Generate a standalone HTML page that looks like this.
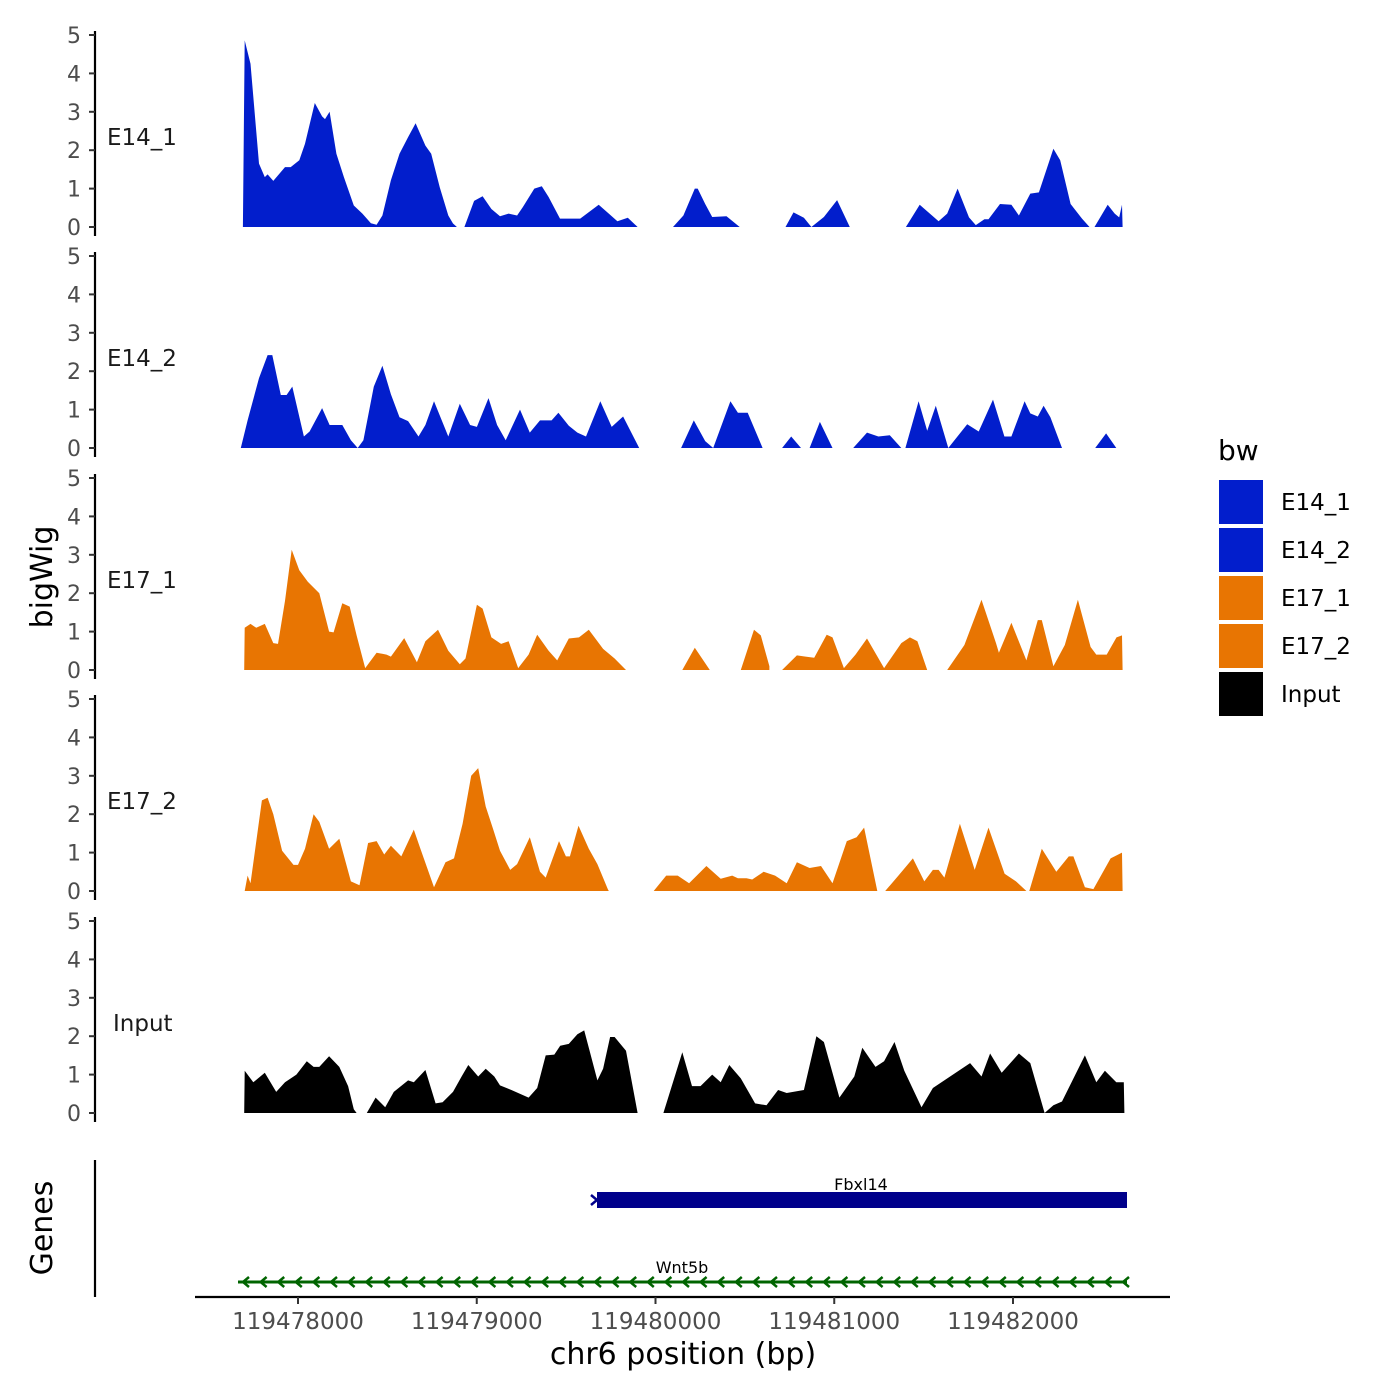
<!DOCTYPE html>
<html><head><meta charset="utf-8"><style>
html,body{margin:0;padding:0;background:#fff;}
svg{display:block;font-family:"DejaVu Sans","Liberation Sans",sans-serif;}
</style></head><body>
<svg id="chart" width="1400" height="1400" viewBox="0 0 1400 1400">
<g id="tracks"></g>
<g id="axes"></g>
<g id="genes">
  <line x1="95" y1="1160" x2="95" y2="1297" stroke="#000" stroke-width="2.2"/>
  <rect x="597" y="1192" width="530" height="16" fill="#00008B"/>
  <path d="M591,1195L597,1200L591,1205" fill="none" stroke="#00008B" stroke-width="2.5"/>
  <text x="861" y="1190" font-size="16" text-anchor="middle" fill="#000">Fbxl14</text>
  <line x1="238" y1="1282" x2="1127" y2="1282" stroke="#006400" stroke-width="3"/>
  <g id="wntArrows"></g>
  <text x="682" y="1273" font-size="16" text-anchor="middle" fill="#000">Wnt5b</text>
  <text transform="translate(52,1228) rotate(-90)" font-size="30" text-anchor="middle" fill="#000">Genes</text>
</g>
<g id="xaxis">
  <line x1="195" y1="1297" x2="1170" y2="1297" stroke="#000" stroke-width="2.2"/>
</g>
<text x="683" y="1364" font-size="30" text-anchor="middle" fill="#000">chr6 position (bp)</text>
<text transform="translate(52,577) rotate(-90)" font-size="30" text-anchor="middle" fill="#000">bigWig</text>
<g id="legend">
  <text x="1218" y="460" font-size="28" fill="#000">bw</text>
</g>
</svg>
<script>
const NS = "http://www.w3.org/2000/svg";
const BASE = 119478000;
const trackNames = ["E14_1","E14_2","E17_1","E17_2","Input"];
const xTicks = [119478000,119479000,119480000,119481000,119482000];
const yTicks = [0,1,2,3,4,5];
// positions: bp offset from BASE; null value = gap
const pos1 = [-308,-298,-266,-218,-186,-170,-138,-73,-41,7,39,94,135,151,177,215,257,312,360,408,440,472,520,568,616,658,713,745,793,841,867,889,900,931,985,1033,1082,1130,1178,1226,1258,1322,1364,1402,1466,1531,1579,1682,1739,1787,1845,1900,2000,2098,2156,2220,2236,2278,2317,2397,2471,2600,2727,2772,2830,2872,2942,3016,3087,3200,3401,3478,3584,3632,3690,3754,3792,3840,3863,3927,3991,4033,4097,4145,4226,4264,4322,4386,4428,4440,4456,4530,4569,4594,4610,4613];
const val1 = [0,4.86,4.25,1.65,1.30,1.37,1.20,1.56,1.56,1.74,2.17,3.23,2.88,2.81,3.00,1.91,1.30,0.56,0.35,0.10,0.06,0.30,1.22,1.91,2.34,2.70,2.12,1.91,1.04,0.30,0.09,0,null,0,0.68,0.80,0.47,0.28,0.35,0.30,0.52,1.00,1.06,0.78,0.22,0.22,0.22,0.58,0.35,0.15,0.24,0,null,0,0.30,1.00,1.00,0.60,0.26,0.28,0,null,0,0.38,0.24,0,0.26,0.70,0,null,0,0.58,0.15,0.35,1.00,0.25,0.05,0.20,0.20,0.60,0.58,0.30,0.87,0.90,2.04,1.74,0.60,0.22,0,null,0,0.58,0.35,0.25,0.58,0];
const pos2 = [-320,-282,-218,-170,-144,-96,-64,-32,33,65,135,177,248,296,334,366,424,472,520,568,616,674,713,761,841,905,963,1001,1066,1114,1162,1242,1297,1354,1419,1457,1515,1563,1611,1691,1755,1819,1909,2000,2143,2214,2278,2323,2419,2461,2516,2599,2650,2708,2759,2814,2840,2862,2920,2990,3050,3106,3183,3247,3311,3375,3398,3472,3520,3568,3638,3744,3808,3888,3952,3991,4065,4097,4139,4171,4209,4274,4350,4460,4521,4578];
const val2 = [0,0.72,1.82,2.42,2.42,1.38,1.38,1.60,0.30,0.43,1.04,0.60,0.60,0.20,0,0.20,1.60,2.14,1.40,0.80,0.70,0.30,0.60,1.22,0.30,1.15,0.60,0.55,1.30,0.60,0.20,1.00,0.40,0.72,0.72,0.92,0.58,0.40,0.30,1.22,0.55,0.82,0,null,0,0.72,0.18,0,1.22,0.92,0.92,0,null,0,0.30,0,null,0,0.68,0,null,0,0.40,0.30,0.33,0,0,1.22,0.45,1.10,0,0.62,0.43,1.26,0.30,0.30,1.22,0.90,0.82,1.10,0.80,0,null,0,0.38,0];
const pos3 = [-301,-298,-266,-234,-186,-138,-112,-73,-35,7,55,119,174,199,248,289,328,376,440,495,520,594,665,713,783,841,905,937,1001,1033,1082,1136,1178,1232,1290,1338,1402,1450,1515,1572,1627,1707,1771,1835,2000,2150,2220,2304,2400,2477,2551,2589,2637,2680,2708,2791,2840,2888,2958,2990,3054,3119,3183,3279,3375,3423,3465,3520,3580,3632,3728,3824,3905,3921,3991,4075,4139,4161,4226,4290,4363,4434,4466,4524,4579,4610,4613];
const val3 = [0,1.10,1.20,1.10,1.20,0.70,0.68,1.80,3.13,2.60,2.30,2.00,1.00,0.98,1.74,1.65,0.90,0.05,0.45,0.40,0.35,0.83,0.20,0.75,1.05,0.50,0.15,0.30,1.70,1.60,0.85,0.68,0.75,0.05,0.40,0.92,0.50,0.25,0.82,0.85,1.05,0.55,0.30,0,null,0,0.58,0,null,0,1.05,0.90,0.10,null,0,0.38,0.35,0.32,0.92,0.85,0.05,0.40,0.82,0.05,0.70,0.85,0.75,0,null,0,0.65,1.83,0.70,0.45,1.23,0.25,1.30,1.30,0.10,0.65,1.83,0.60,0.40,0.40,0.85,0.90,0];
const pos4 = [-298,-282,-266,-202,-170,-138,-89,-25,0,39,87,119,174,231,296,344,392,440,482,520,578,648,681,761,825,873,921,969,1008,1050,1091,1130,1187,1226,1297,1354,1386,1460,1499,1521,1569,1627,1675,1733,1739,1850,1990,2060,2124,2188,2285,2365,2429,2461,2509,2541,2605,2669,2734,2791,2862,2926,2990,3070,3125,3167,3241,3260,3285,3359,3440,3504,3552,3584,3616,3703,3786,3863,3953,4017,4075,4083,4091,4161,4242,4312,4338,4402,4450,4546,4610,4613];
const val4 = [0,0.40,0.20,2.36,2.43,2.00,1.05,0.68,0.68,1.10,2.00,1.80,1.10,1.36,0.25,0.15,1.25,1.30,0.95,1.18,0.90,1.60,1.15,0.10,0.75,0.85,1.75,3.00,3.20,2.20,1.62,1.05,0.55,0.70,1.40,0.50,0.35,1.30,0.90,0.90,1.70,1.10,0.70,0.05,0,null,0,0.40,0.40,0.20,0.65,0.32,0.40,0.33,0.33,0.30,0.50,0.40,0.20,0.75,0.60,0.65,0.20,1.30,1.40,1.65,0,null,0,0.40,0.85,0.25,0.55,0.55,0.35,1.75,0.55,1.65,0.45,0.25,0,null,0,1.10,0.50,0.90,0.90,0.10,0.05,0.85,1.00,0];
const pos5 = [-301,-298,-250,-186,-122,-73,-9,49,87,119,174,231,280,312,328,360,385,434,488,536,616,648,713,770,809,867,915,953,1008,1050,1098,1130,1194,1290,1338,1386,1434,1467,1515,1563,1601,1627,1675,1707,1746,1771,1835,1900,1970,2044,2150,2204,2252,2317,2365,2413,2477,2557,2621,2686,2734,2830,2900,2942,3029,3112,3157,3231,3279,3337,3392,3488,3552,3664,3760,3824,3872,3937,4033,4097,4177,4226,4274,4402,4466,4514,4578,4620,4623];
const val5 = [0,1.10,0.80,1.05,0.55,0.80,1.00,1.35,1.20,1.20,1.48,1.20,0.70,0.10,0,null,0,0.40,0.15,0.55,0.85,0.80,1.12,0.25,0.28,0.55,0.95,1.25,0.95,1.15,0.95,0.72,0.60,0.40,0.65,1.50,1.52,1.75,1.80,2.05,2.15,1.70,0.85,1.15,1.98,1.98,1.62,0,null,0,1.58,0.70,0.70,1.00,0.80,1.25,0.90,0.25,0.20,0.60,0.52,0.60,2.00,1.85,0.40,0.95,1.70,1.20,1.35,1.85,1.10,0.15,0.65,1.00,1.30,0.95,1.55,1.05,1.55,1.30,0,0.20,0.30,1.50,0.80,1.10,0.80,0.80,0];
const trackPos = [pos1,pos2,pos3,pos4,pos5];
const trackVal = [val1,val2,val3,val4,val5];
const colors = ["#021ECC","#021ECC","#E87502","#E87502","#000000"];
const baselines = [227,448,670,891,1113];
const PXU = 38.4;
function xs(bp){ return 298 + (bp - BASE) * 0.17875; }
function ys(i,v){ return baselines[i] - v * PXU; }

const tracks = document.getElementById('tracks');
trackNames.forEach((nm,i)=>{
  const P = trackPos[i], V = trackVal[i];
  let segs = [], cur = [];
  for (let k=0;k<P.length;k++){
    if (V[k]===null){ if(cur.length) segs.push(cur); cur=[]; continue; }
    cur.push([P[k],V[k]]);
  }
  if (cur.length) segs.push(cur);
  let d = "";
  segs.forEach(s=>{
    d += "M"+xs(BASE+s[0][0]).toFixed(1)+","+baselines[i];
    s.forEach(p=>{ d += "L"+xs(BASE+p[0]).toFixed(1)+","+ys(i,p[1]).toFixed(1); });
    d += "L"+xs(BASE+s[s.length-1][0]).toFixed(1)+","+baselines[i]+"Z";
  });
  const path = document.createElementNS(NS,'path');
  path.setAttribute('d', d);
  path.setAttribute('fill', colors[i]);
  
  
  tracks.appendChild(path);
});

const axes = document.getElementById('axes');
trackNames.forEach((nm,i)=>{
  const b = baselines[i];
  const ln = document.createElementNS(NS,'line');
  ln.setAttribute('x1',95); ln.setAttribute('x2',95);
  ln.setAttribute('y1', b - 5*PXU - 4); ln.setAttribute('y2', b + 9);
  ln.setAttribute('stroke','#000'); ln.setAttribute('stroke-width','2.2');
  
  
  axes.appendChild(ln);
  yTicks.forEach(t=>{
    const y = ys(i,t);
    const tk = document.createElementNS(NS,'line');
    tk.setAttribute('x1',89); tk.setAttribute('x2',95);
    tk.setAttribute('y1',y); tk.setAttribute('y2',y);
    tk.setAttribute('stroke','#333'); tk.setAttribute('stroke-width','2');
    
    
    axes.appendChild(tk);
    const tx = document.createElementNS(NS,'text');
    tx.setAttribute('x',81); tx.setAttribute('y',y+8);
    tx.setAttribute('text-anchor','end'); tx.setAttribute('font-size','22');
    tx.setAttribute('fill','#4d4d4d');
    tx.textContent = t;
    
    
    axes.appendChild(tx);
  });
  const lb = document.createElementNS(NS,'text');
  lb.setAttribute('x', nm==='Input'?113:107); lb.setAttribute('y', b - 2.35*PXU + 8);
  lb.setAttribute('font-size','23'); lb.setAttribute('fill','#1a1a1a');
  lb.textContent = nm;
  
  
  axes.appendChild(lb);
});

const xa = document.getElementById('xaxis');
xTicks.forEach(t=>{
  const x = xs(t);
  const tk = document.createElementNS(NS,'line');
  tk.setAttribute('x1',x); tk.setAttribute('x2',x);
  tk.setAttribute('y1',1297); tk.setAttribute('y2',1304);
  tk.setAttribute('stroke','#333'); tk.setAttribute('stroke-width','2');
  
  
  xa.appendChild(tk);
  const tx = document.createElementNS(NS,'text');
  tx.setAttribute('x',x); tx.setAttribute('y',1329);
  tx.setAttribute('text-anchor','middle'); tx.setAttribute('font-size','23');
  tx.setAttribute('fill','#4d4d4d');
  tx.textContent = t;
  
  
  xa.appendChild(tx);
});

const wa = document.getElementById('wntArrows');
for (let x=243; x<1125; x+=17.6){
  const p = document.createElementNS(NS,'path');
  p.setAttribute('d', 'M'+(x+6)+',1277L'+x+',1282L'+(x+6)+',1287');
  p.setAttribute('fill','none'); p.setAttribute('stroke','#006400'); p.setAttribute('stroke-width','2.5');
  
  
  wa.appendChild(p);
}

const lg = document.getElementById('legend');
const legendColors = ["#021ECC","#021ECC","#E87502","#E87502","#000000"];
trackNames.forEach((nm,i)=>{
  const y = 480 + i*48;
  const r = document.createElementNS(NS,'rect');
  r.setAttribute('x',1219); r.setAttribute('y',y);
  r.setAttribute('width',44); r.setAttribute('height',44);
  r.setAttribute('fill',legendColors[i]);
  
  
  lg.appendChild(r);
  const t = document.createElementNS(NS,'text');
  t.setAttribute('x',1281); t.setAttribute('y',y+30);
  t.setAttribute('font-size','23'); t.setAttribute('fill','#000');
  t.textContent = nm;
  
  
  lg.appendChild(t);
});
</script>
</body></html>
